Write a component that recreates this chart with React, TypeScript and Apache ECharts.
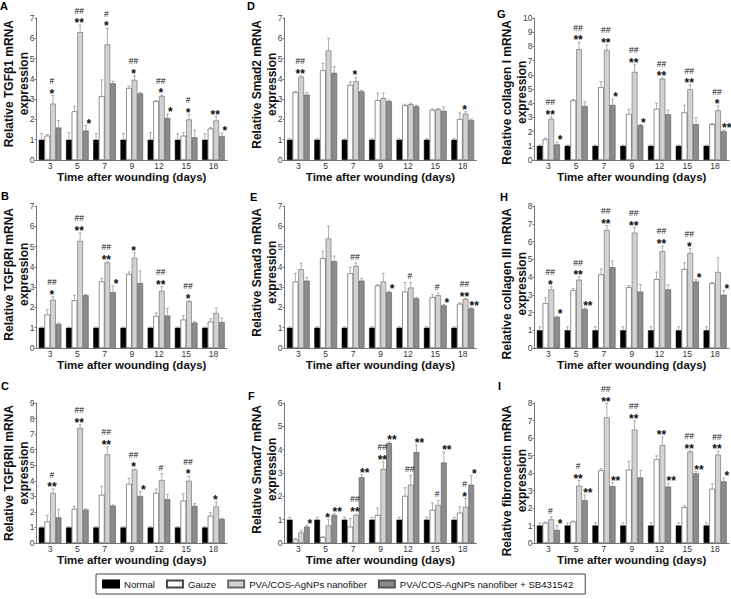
import React, { useEffect, useRef } from 'react';
import * as echarts from 'echarts';

const FONT = '"Liberation Sans", Arial, Helvetica, sans-serif';

const DAYS = ['3', '5', '7', '9', '12', '15', '18'];
const SERIES_NAMES = ['Normal', 'Gauze', 'PVA/COS-AgNPs nanofiber', 'PVA/COS-AgNPs nanofiber + SB431542'];
const X_TITLE = 'Time after wounding (days)';
const NORMAL = [1, 1, 1, 1, 1, 1, 1];

// A – TGFβ1
const A_normalErr = [0.3, 0.35, 0.3, 0.3, 0.35, 0.3, 0.3];
const A_gauze = [1.2, 2.4, 3.15, 3.55, 2.9, 1.2, 1.55];
const A_gauzeErr = [0.05, 0.25, 0.8, 0.1, 0.02, 0.15, 0.05];
const A_pva = [2.78, 6.3, 5.7, 3.95, 3.15, 2.0, 1.95];
const A_pvaErr = [0.4, 0.35, 0.8, 0.2, 0.05, 0.25, 0.2];
const A_sb = [1.6, 1.45, 3.78, 3.28, 2.07, 1.12, 1.18];
const A_sbErr = [0.35, 0.25, 0.1, 0.05, 0.2, 0.35, 0.15];
const A_pvaSig = ['#/*', '##/**', '#/*', '##/*', '##/*', '#/*', '/**'];
const A_sbSig = ['', '/*', '', '', '/*', '', '/*'];

// D – Smad2
const D_normalErr = [0.05, 0.05, 0.05, 0.05, 0.05, 0.05, 0.05];
const D_gauze = [3.35, 4.42, 3.7, 2.95, 2.7, 2.47, 2.02];
const D_gauzeErr = [0.02, 0.35, 0.15, 0.35, 0.05, 0.05, 0.3];
const D_pva = [4.1, 5.4, 3.88, 3.05, 2.75, 2.5, 2.28];
const D_pvaErr = [0.05, 0.6, 0.2, 0.25, 0.05, 0.05, 0.1];
const D_sb = [3.22, 4.3, 3.38, 2.9, 2.65, 2.42, 1.97];
const D_sbErr = [0.1, 0.3, 0.05, 0.05, 0.05, 0.2, 0.05];
const D_pvaSig = ['##/**', '', '/*', '', '', '', '/*'];
const D_sbSig = ['', '', '', '', '', '', ''];

// G – collagen I
const G_normalErr = [0.05, 0.05, 0.05, 0.05, 0.05, 0.05, 0.05];
const G_gauze = [1.45, 4.2, 5.12, 3.25, 3.6, 3.35, 2.52];
const G_gauzeErr = [0.1, 0.05, 0.4, 0.3, 0.4, 0.5, 0.05];
const G_pva = [2.9, 7.8, 7.75, 6.2, 5.72, 4.98, 3.5];
const G_pvaErr = [0.15, 0.5, 0.35, 0.5, 0.05, 0.3, 0.3];
const G_sb = [1.1, 3.8, 3.88, 2.45, 3.22, 2.52, 2.02];
const G_sbErr = [0.15, 0.3, 0.4, 0.05, 0.3, 0.45, 0.1];
const G_pvaSig = ['##/**', '##/**', '##/**', '##/**', '##/**', '##/**', '##/*'];
const G_sbSig = ['/*', '', '/*', '/*', '', '', '/**'];

// B – TGFβRI
const B_normalErr = [0.03, 0.03, 0.03, 0.03, 0.03, 0.03, 0.03];
const B_gauze = [1.65, 2.35, 3.28, 3.65, 1.58, 1.4, 1.3];
const B_gauzeErr = [0.25, 0.25, 0.15, 0.1, 0.15, 0.2, 0.15];
const B_pva = [2.38, 5.28, 4.22, 4.45, 2.82, 2.3, 1.72];
const B_pvaErr = [0.15, 0.4, 0.02, 0.25, 0.2, 0.02, 0.25];
const B_sb = [1.18, 2.6, 2.75, 3.2, 1.6, 1.25, 1.28];
const B_sbErr = [0.05, 0.05, 0.3, 0.6, 0.35, 0.05, 0.2];
const B_pvaSig = ['##/*', '##/**', '##/**', '/*', '##/**', '##/*', ''];
const B_sbSig = ['', '', '/*', '', '', '', ''];

// E – Smad3
const E_normalErr = [0.05, 0.05, 0.05, 0.05, 0.05, 0.05, 0.05];
const E_gauze = [3.28, 4.42, 3.68, 3.08, 2.78, 2.5, 2.18];
const E_gauzeErr = [0.4, 0.35, 0.3, 0.05, 0.45, 0.15, 0.05];
const E_pva = [3.88, 5.4, 4.05, 3.28, 2.98, 2.6, 2.42];
const E_pvaErr = [0.3, 0.6, 0.15, 0.4, 0.25, 0.1, 0.02];
const E_sb = [3.32, 4.28, 3.32, 2.75, 2.45, 2.1, 1.95];
const E_sbErr = [0.15, 0.25, 0.1, 0.05, 0.05, 0.05, 0.05];
const E_pvaSig = ['', '', '##/', '', '#/', '#/', '##/**'];
const E_sbSig = ['', '', '', '/*', '', '/*', '/**'];

// H – collagen III
const H_normalErr = [0.2, 0.2, 0.2, 0.2, 0.2, 0.2, 0.2];
const H_gauze = [2.52, 3.25, 4.15, 3.42, 3.88, 4.45, 3.65];
const H_gauzeErr = [0.3, 0.1, 0.3, 0.1, 0.4, 0.35, 0.05];
const H_pva = [3.3, 3.85, 6.65, 6.5, 5.45, 5.35, 4.28];
const H_pvaErr = [0.15, 0.15, 0.25, 0.3, 0.3, 0.25, 0.8];
const H_sb = [1.75, 2.2, 4.55, 3.18, 3.3, 3.75, 3.0];
const H_sbErr = [0.05, 0.05, 0.35, 0.4, 0.25, 0.1, 0.25];
const H_pvaSig = ['##/*', '##/**', '##/**', '##/**', '##/**', '##/*', ''];
const H_sbSig = ['/*', '/**', '', '', '', '/*', '/*'];

// C – TGFβRII
const C_normalErr = [0.05, 0.05, 0.05, 0.05, 0.05, 0.05, 0.05];
const C_gauze = [1.38, 2.2, 3.1, 3.8, 3.22, 2.72, 1.75];
const C_gauzeErr = [0.4, 0.15, 0.55, 0.35, 0.25, 0.45, 0.2];
const C_pva = [3.22, 7.4, 5.7, 4.72, 4.05, 4.0, 2.35];
const C_pvaErr = [0.25, 0.2, 0.5, 0.02, 0.4, 0.3, 0.3];
const C_sb = [1.65, 2.15, 2.4, 3.02, 2.82, 2.38, 1.55];
const C_sbErr = [0.5, 0.05, 0.05, 0.3, 0.3, 0.15, 0.05];
const C_pvaSig = ['#/**', '##/**', '##/**', '##/*', '#/', '##/*', '/*'];
const C_sbSig = ['', '', '', '/*', '', '', ''];

// F – Smad7
const F_normalErr = [0.1, 0.1, 0.1, 0.1, 0.1, 0.1, 0.1];
const F_gauze = [0.15, 0.25, 0.7, 1.2, 2.02, 1.42, 1.3];
const F_gauzeErr = [0.05, 0.02, 0.35, 0.3, 0.35, 0.3, 0.25];
const F_pva = [0.45, 0.75, 1.2, 3.18, 2.5, 1.63, 1.55];
const F_pvaErr = [0.1, 0.25, 0.05, 0.3, 0.4, 0.2, 0.35];
const F_sb = [0.7, 1.2, 2.82, 4.28, 3.9, 3.45, 2.5];
const F_sbErr = [0.05, 0.05, 0.1, 0.05, 0.3, 0.45, 0.4];
const F_pvaSig = ['', '/*', '##/**', '##/**', '##/', '#/', '#/*'];
const F_sbSig = ['/*', '/**', '/**', '/**', '/**', '/**', '/*'];

// I – fibronectin
const I_normalErr = [0.15, 0.15, 0.15, 0.15, 0.15, 0.15, 0.15];
const I_gauze = [1.15, 1.22, 4.15, 4.2, 4.78, 2.05, 3.1];
const I_gauzeErr = [0.05, 0.05, 0.1, 0.45, 0.2, 0.1, 0.3];
const I_pva = [1.35, 3.28, 7.18, 6.48, 5.6, 5.22, 5.05];
const I_pvaErr = [0.15, 0.3, 0.8, 0.5, 0.45, 0.05, 0.2];
const I_sb = [0.75, 2.45, 3.25, 3.75, 3.22, 3.98, 3.52];
const I_sbErr = [0.25, 0.3, 0.2, 0.4, 0.2, 0.1, 0.2];
const I_pvaSig = ['#/', '#/**', '##/**', '##/**', '/**', '##/**', '##/**'];
const I_sbSig = ['/*', '/**', '/**', '', '/**', '/**', '/*'];

type Panel = {
  letter: string; title: string; yMax: number;
  vals: number[][]; errs: number[][]; sigs: string[][];
};

const mk = (letter: string, title: string, yMax: number,
  nErr: number[], g: number[], gE: number[], p: number[], pE: number[], s: number[], sE: number[],
  pSig: string[], sSig: string[]): Panel => ({
  letter, title, yMax,
  vals: [NORMAL, g, p, s],
  errs: [nErr, gE, pE, sE],
  sigs: [NORMAL.map(() => ''), NORMAL.map(() => ''), pSig, sSig],
});

// row-major order
const PANELS: Panel[] = [
  mk('A', 'Relative TGFβ1 mRNA', 7, A_normalErr, A_gauze, A_gauzeErr, A_pva, A_pvaErr, A_sb, A_sbErr, A_pvaSig, A_sbSig),
  mk('D', 'Relative Smad2 mRNA', 7, D_normalErr, D_gauze, D_gauzeErr, D_pva, D_pvaErr, D_sb, D_sbErr, D_pvaSig, D_sbSig),
  mk('G', 'Relative collagen I mRNA', 10, G_normalErr, G_gauze, G_gauzeErr, G_pva, G_pvaErr, G_sb, G_sbErr, G_pvaSig, G_sbSig),
  mk('B', 'Relative TGFβRI mRNA', 7, B_normalErr, B_gauze, B_gauzeErr, B_pva, B_pvaErr, B_sb, B_sbErr, B_pvaSig, B_sbSig),
  mk('E', 'Relative Smad3 mRNA', 7, E_normalErr, E_gauze, E_gauzeErr, E_pva, E_pvaErr, E_sb, E_sbErr, E_pvaSig, E_sbSig),
  mk('H', 'Relative collagen III mRNA', 8, H_normalErr, H_gauze, H_gauzeErr, H_pva, H_pvaErr, H_sb, H_sbErr, H_pvaSig, H_sbSig),
  mk('C', 'Relative TGFβRII mRNA', 9, C_normalErr, C_gauze, C_gauzeErr, C_pva, C_pvaErr, C_sb, C_sbErr, C_pvaSig, C_sbSig),
  mk('F', 'Relative Smad7 mRNA', 6, F_normalErr, F_gauze, F_gauzeErr, F_pva, F_pvaErr, F_sb, F_sbErr, F_pvaSig, F_sbSig),
  mk('I', 'Relative fibronectin mRNA', 8, I_normalErr, I_gauze, I_gauzeErr, I_pva, I_pvaErr, I_sb, I_sbErr, I_pvaSig, I_sbSig),
];

// layout
const COL_LEFT = [36.5, 284.6, 534.5];
const COL_WIDTH = [190.5, 191.8, 194.5];
const ROW_TOP = [18, 206, 403];
const ROW_HEIGHT = [142, 142, 140];
const LETTER_POS = [[0, 0], [247, 0], [497, 8], [1, 190], [250, 191], [500, 191], [1, 380], [248, 390], [498, 380]];
const CAT_GAP = 0.17;
const SIG_SHIFT = [0, 0, -1, 3]; // horizontal nudge of significance marks per group

const BAR_STYLES = [
  { color: '#000000', borderColor: '#000000', borderWidth: 0.5 },
  { color: '#ffffff', borderColor: '#444444', borderWidth: 0.6 },
  { color: '#d2d2d2', borderColor: '#666666', borderWidth: 0.6 },
  { color: '#8c8c8c', borderColor: '#555555', borderWidth: 0.6 },
];

function measure(text: string, font: string): number {
  const c = document.createElement('canvas').getContext('2d');
  if (!c) return text.length * 6.5;
  c.font = font;
  return c.measureText(text).width;
}

function buildOption() {
  const grids: any[] = [];
  const xAxes: any[] = [];
  const yAxes: any[] = [];
  const series: any[] = [];
  const graphics: any[] = [];

  PANELS.forEach((p, i) => {
    const r = Math.floor(i / 3);
    const c = i % 3;
    grids.push({ left: COL_LEFT[c], top: ROW_TOP[r], width: COL_WIDTH[c], height: ROW_HEIGHT[r] });
    xAxes.push({
      type: 'category', gridIndex: i, data: DAYS,
      axisLine: { lineStyle: { color: '#777', width: 1 } },
      axisTick: { show: false },
      axisLabel: { fontSize: 8.5, color: '#333', margin: 1.5, fontFamily: FONT },
      name: X_TITLE, nameLocation: 'middle', nameGap: 10.5,
      nameTextStyle: { fontSize: 11.5, fontWeight: 'bold', color: '#111', fontFamily: FONT },
    });
    yAxes.push({
      type: 'value', gridIndex: i, min: 0, max: p.yMax, interval: 1,
      axisLine: { show: true, lineStyle: { color: '#777', width: 1 } },
      axisTick: { show: true, length: 2, lineStyle: { color: '#777' } },
      axisLabel: { fontSize: 8.5, color: '#444', margin: 2, fontFamily: FONT },
      splitLine: { show: false },
    });
    for (let g = 0; g < 4; g++) {
      series.push({
        type: 'bar', name: SERIES_NAMES[g], xAxisIndex: i, yAxisIndex: i,
        data: p.vals[g], barGap: '0%', barCategoryGap: `${CAT_GAP * 100}%`,
        itemStyle: BAR_STYLES[g], z: 2,
      });
    }
    // error bars + significance marks
    const data: number[][] = [];
    const sigs: string[] = [];
    for (let k = 0; k < DAYS.length; k++) {
      for (let g = 0; g < 4; g++) {
        data.push([k, g, p.vals[g][k], p.errs[g][k]]);
        sigs.push(p.sigs[g][k]);
      }
    }
    series.push({
      type: 'custom', name: `err-${p.letter}`, xAxisIndex: i, yAxisIndex: i,
      data, encode: { x: 0, y: 2 }, z: 4, clip: false, silent: true,
      renderItem: (params: any, api: any) => {
        const k = api.value(0);
        const g = api.value(1);
        const v = api.value(2);
        const e = api.value(3);
        const band = api.size([1, 0])[0];
        const used = band * (1 - CAT_GAP);
        const bw = used / 4;
        const cx = api.coord([k, 0])[0] - used / 2 + (g + 0.5) * bw;
        const yBase = api.coord([k, v])[1];
        const yTop = api.coord([k, v + e])[1];
        const children: any[] = [
          { type: 'line', shape: { x1: cx, y1: yBase, x2: cx, y2: yTop }, style: { stroke: '#9a9a9a', lineWidth: 0.8 } },
          { type: 'line', shape: { x1: cx - 1.5, y1: yTop, x2: cx + 1.5, y2: yTop }, style: { stroke: '#9a9a9a', lineWidth: 0.8 } },
        ];
        const sig = sigs[params.dataIndex] || '';
        if (sig) {
          const [hash, star] = sig.split('/');
          const sx = cx + SIG_SHIFT[g];
          if (star) {
            children.push({
              type: 'text', x: sx, y: yTop - 1.8,
              style: { text: star, fill: '#111', fontSize: 12, fontWeight: 'bold', fontFamily: FONT, lineHeight: 7, align: 'center', verticalAlign: 'middle' },
            });
          }
          if (hash) {
            children.push({
              type: 'text', x: sx, y: star ? yTop - 14.5 : yTop - 6,
              style: { text: hash, fill: '#111', fontSize: 8.5, fontFamily: FONT, lineHeight: 7, align: 'center', verticalAlign: 'middle' },
            });
          }
        }
        return { type: 'group', children };
      },
    });

    // panel letter
    graphics.push({
      type: 'text', left: LETTER_POS[i][0], top: LETTER_POS[i][1],
      style: { text: p.letter, fill: '#000', font: `bold 11px ${FONT}` },
    });
    // y-axis title (two lines, rotated)
    const tFont = `bold 12px ${FONT}`;
    const w1 = measure(p.title, tFont);
    graphics.push({
      type: 'text', x: COL_LEFT[c] - 20.5, y: ROW_TOP[r] + 2 + w1 / 2, rotation: Math.PI / 2,
      style: {
        text: `${p.title}\nexpression`, fill: '#111', font: tFont, lineHeight: 15,
        align: 'center', verticalAlign: 'middle', textAlign: 'center', textVerticalAlign: 'middle',
      },
    });
  });

  return {
    animation: false,
    backgroundColor: '#ffffff',
    textStyle: { fontFamily: FONT },
    grid: grids,
    xAxis: xAxes,
    yAxis: yAxes,
    series,
    graphic: graphics,
    legend: {
      data: SERIES_NAMES, left: 96, top: 574, orient: 'horizontal',
      selectedMode: false,
      itemWidth: 16, itemHeight: 7, itemGap: 11,
      padding: [5, 12, 5, 6],
      borderColor: '#444', borderWidth: 1,
      icon: 'rect',
      textStyle: { fontSize: 9.6, color: '#111', fontFamily: FONT },
    },
  };
}

export default function App() {
  const ref = useRef<HTMLDivElement>(null);
  useEffect(() => {
    if (!ref.current) return;
    const chart = echarts.init(ref.current, null, { renderer: 'svg', width: 731, height: 599 });
    chart.setOption(buildOption() as any);
    return () => chart.dispose();
  }, []);
  return (
    <div
      ref={ref}
      style={{ position: 'absolute', left: 0, top: 0, width: 731, height: 599, background: '#fff' }}
    />
  );
}
